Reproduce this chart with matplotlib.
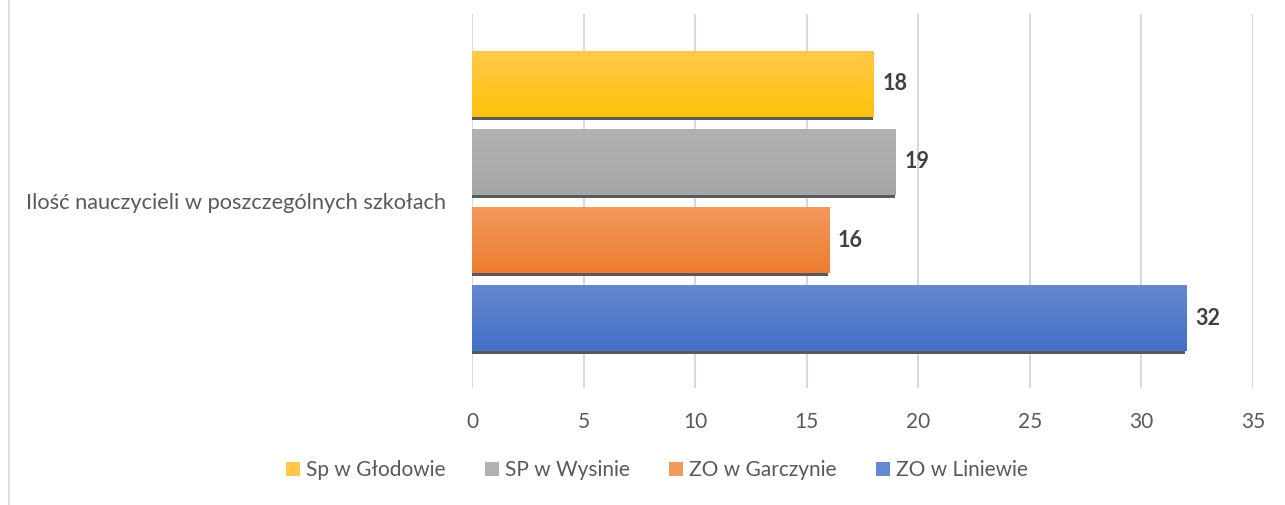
import numpy as np
import matplotlib.pyplot as plt
from matplotlib.patches import Patch
from matplotlib.colors import LinearSegmentedColormap

category = 'Ilość nauczycieli w poszczególnych szkołach'
schools = ['Sp w Głodowie', 'SP w Wysinie', 'ZO w Garczynie', 'ZO w Liniewie']
teachers = [18, 19, 16, 32]
xticks = [0, 5, 10, 15, 20, 25, 30, 35]

# gradient top -> bottom for each series
top_colors = ['#FFC84C', '#B2B2B2', '#F2995C', '#6489D0']
bottom_colors = ['#FFC20A', '#A6A6A6', '#EE7C30', '#4470C6']

plt.rcParams['font.family'] = ['Lato', 'DejaVu Sans']

fig = plt.figure(figsize=(12.85, 5.05), dpi=100)
ax = fig.add_axes([472/1285, 1 - 388/505, 781/1285, 374/505])

bar_h = 0.179
step = 0.2086
n = len(schools)
ypos = [(n - 1) / 2 * step - i * step for i in range(n)]
shadow = 3 / 374

for i, (name, val) in enumerate(zip(schools, teachers)):
    y = ypos[i]
    # dark shadow under the bar
    ax.barh(y - shadow, val - 0.04, height=bar_h, left=0, color='#595959',
            zorder=2, linewidth=0)
    bar = ax.barh(y, val, height=bar_h, left=0, color=bottom_colors[i],
                  zorder=3, linewidth=0)[0]
    cmap = LinearSegmentedColormap.from_list('g%d' % i, [bottom_colors[i], top_colors[i]])
    grad = np.linspace(0, 1, 100).reshape(-1, 1)
    im = ax.imshow(grad, cmap=cmap, aspect='auto', origin='lower',
                   extent=[0, val, y - bar_h / 2, y + bar_h / 2], zorder=4)
    im.set_clip_path(bar)
    ax.text(val + 0.4, y, str(val), va='center', ha='left', fontsize=15.5,
            fontweight='bold', color='#404040', zorder=5)

ax.set_xlim(0, 35)
ax.set_ylim(-0.5, 0.5)
ax.set_xticks(xticks)
ax.set_yticks([0])
ax.set_yticklabels([category])
ax.tick_params(axis='x', length=0, pad=17, labelsize=15, labelcolor='#595959')
ax.tick_params(axis='y', length=0, pad=19, labelsize=15.7, labelcolor='#595959')
ax.grid(axis='x', color='#D9D9D9', linewidth=1.5, zorder=0)
ax.set_axisbelow(True)
for s in ax.spines.values():
    s.set_visible(False)

handles = [Patch(facecolor=c, edgecolor='none') for c in top_colors]
fig.legend(handles, schools, loc='center', bbox_to_anchor=(657/1285, 1 - 470/505),
           ncol=4, frameon=False, fontsize=15, labelcolor='#595959',
           handlelength=0.65, handleheight=0.65, handletextpad=0.3, columnspacing=1.9)

# chart border on the left
fig.add_artist(plt.Line2D([9/1285, 9/1285], [0, 1], color='#D9D9D9', linewidth=1.2))

fig.savefig('out.png', dpi=100)
